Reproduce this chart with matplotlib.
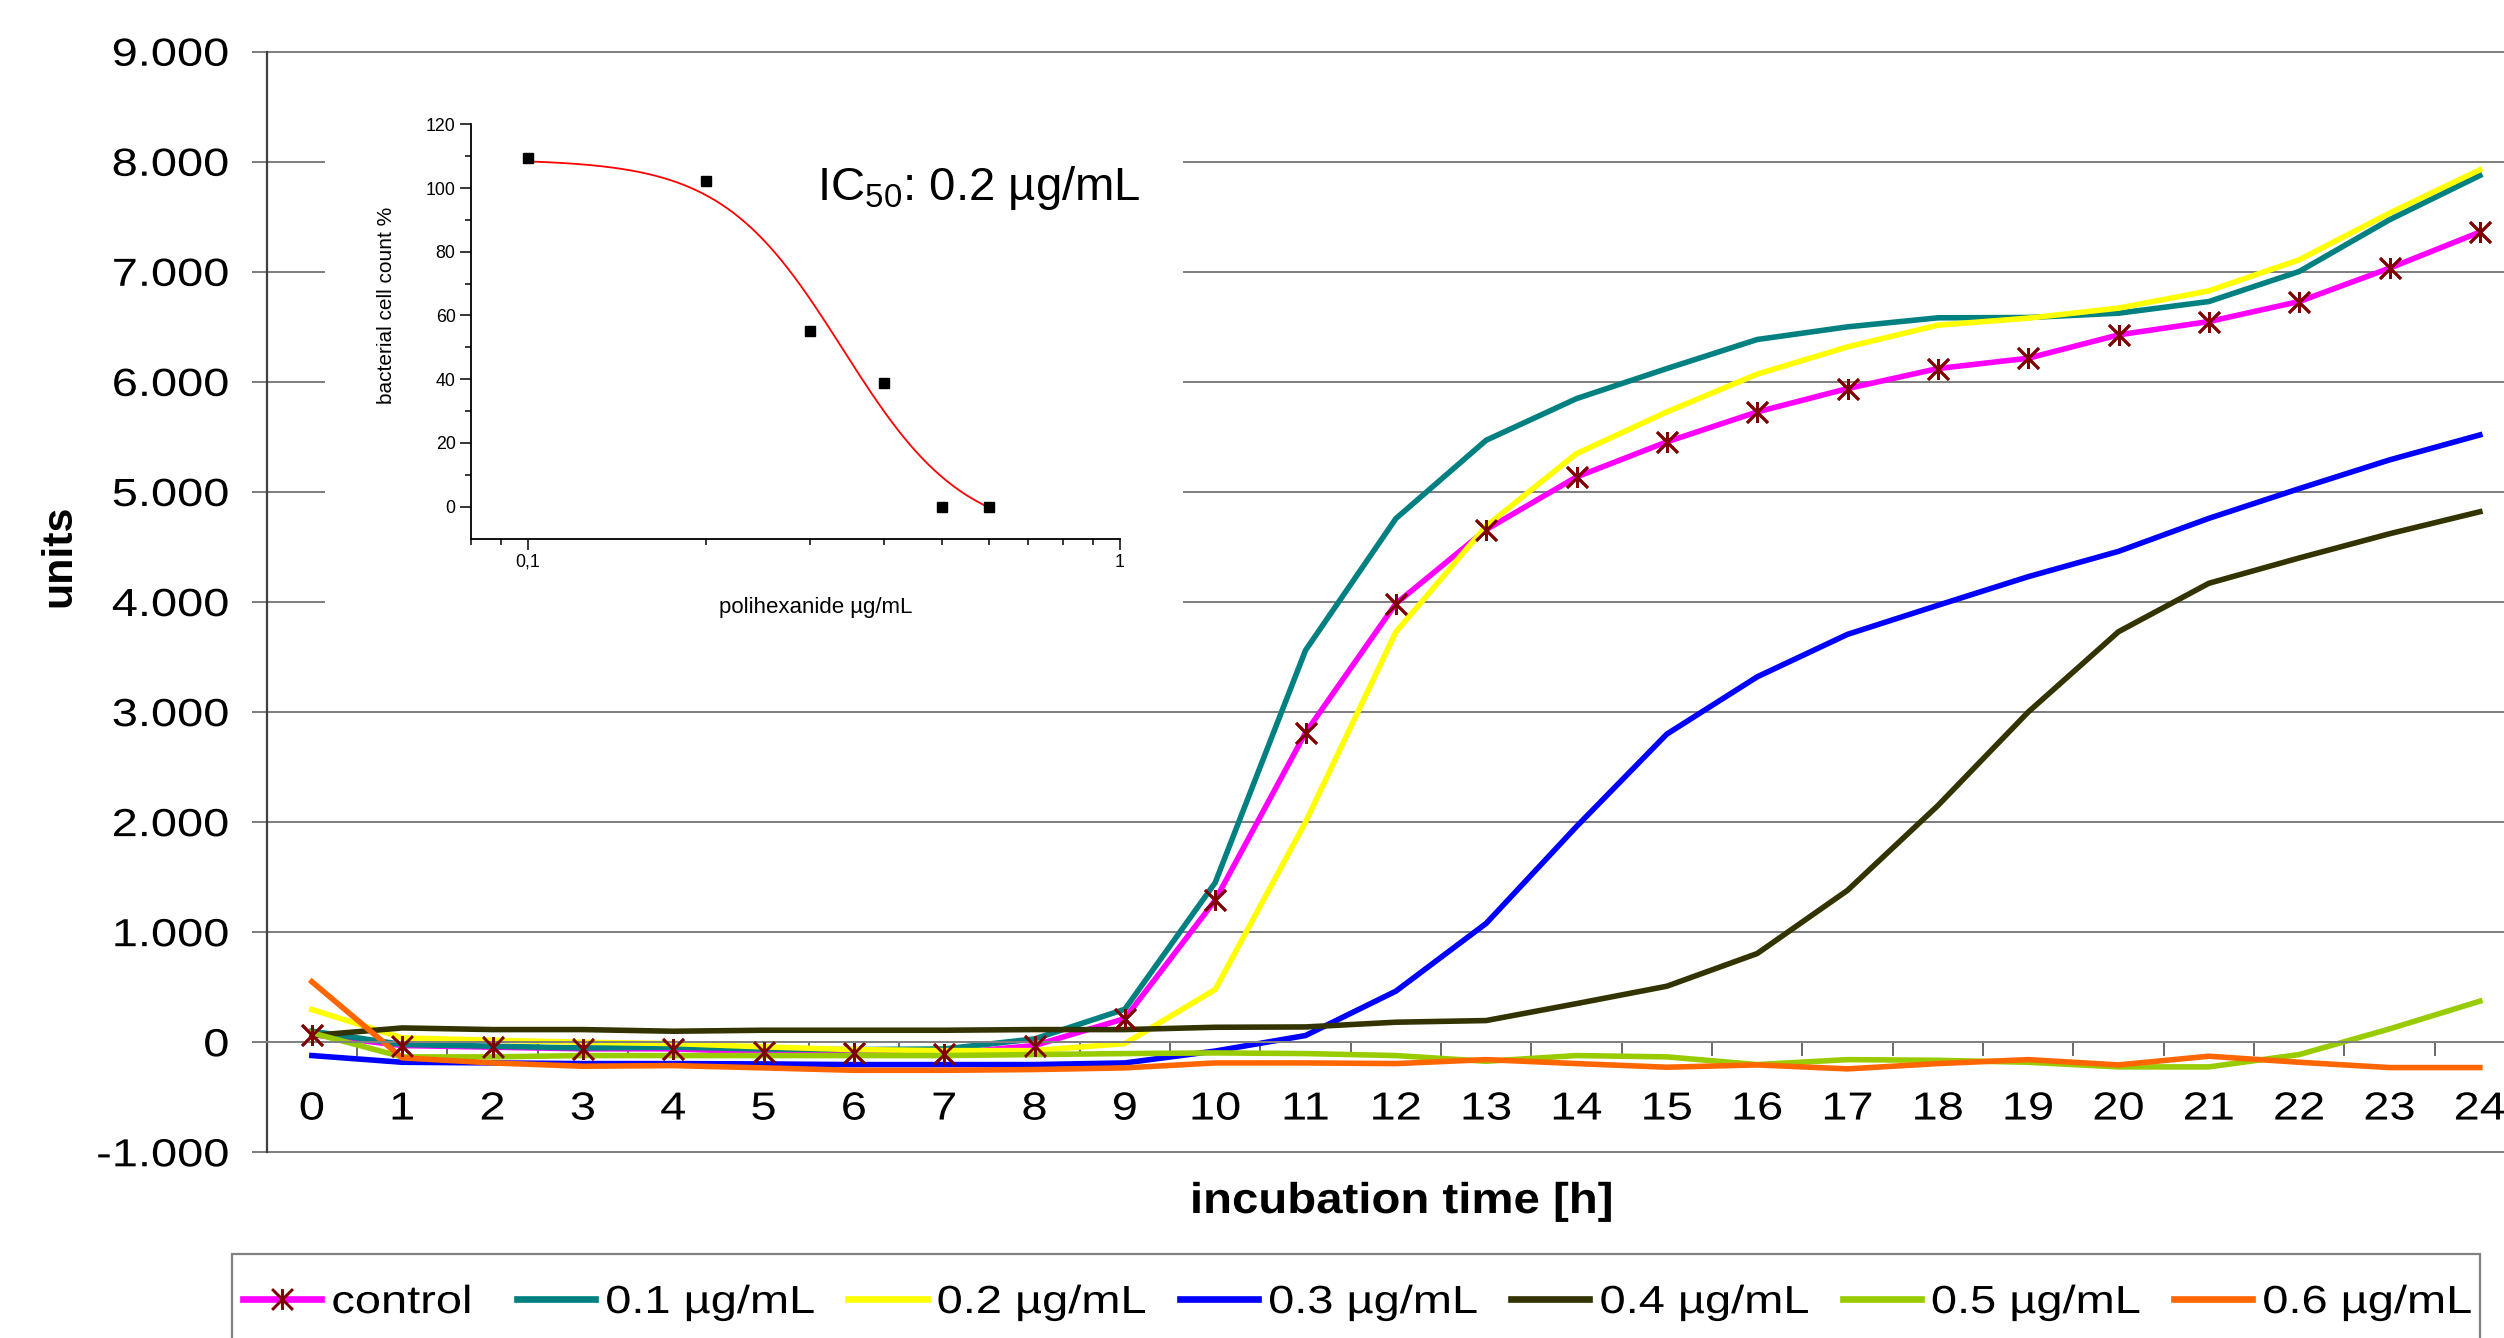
import numpy as np
import matplotlib
matplotlib.use("Agg")
import matplotlib.pyplot as plt
from matplotlib.path import Path
from matplotlib.patheffects import AbstractPathEffect
from matplotlib.transforms import Affine2D
from matplotlib.patches import Rectangle

# ---------------- data ----------------
hours = list(range(25))
x_tick_labels = [str(h) for h in hours]
y_ticks = [-1000, 0, 1000, 2000, 3000, 4000, 5000, 6000, 7000, 8000, 9000]
y_tick_labels = ["-1.000", "0", "1.000", "2.000", "3.000", "4.000",
                 "5.000", "6.000", "7.000", "8.000", "9.000"]

series_labels = ["control", "0.1 µg/mL", "0.2 µg/mL", "0.3 µg/mL",
                 "0.4 µg/mL", "0.5 µg/mL", "0.6 µg/mL"]

control = [70, -30, -45, -60, -60, -90, -97, -103, -30, 215, 1290, 2812, 3985,
           4658, 5136, 5455, 5727, 5939, 6121, 6215, 6427, 6548, 6730, 7033, 7361]
conc_01 = [100, -20, -36, -52, -45, -61, -67, -61, 30, 300, 1450, 3561, 4758,
           5470, 5848, 6121, 6385, 6500, 6582, 6585, 6624, 6730, 7003, 7473, 7875]
conc_02 = [297, 39, 18, 0, -12, -42, -67, -76, -76, -12, 479, 2000, 3727,
           4690, 5348, 5727, 6070, 6318, 6515, 6579, 6670, 6827, 7109, 7533, 7927]
conc_03 = [-121, -182, -188, -194, -194, -197, -203, -203, -203, -188, -80, 61, 464,
           1080, 1960, 2800, 3320, 3706, 3970, 4230, 4460, 4760, 5030, 5291, 5518]
conc_04 = [61, 130, 115, 115, 100, 109, 109, 109, 115, 115, 136, 139, 182,
           197, 351, 509, 806, 1380, 2150, 3000, 3730, 4170, 4400, 4620, 4820]
conc_05 = [85, -133, -133, -121, -121, -121, -121, -121, -112, -103, -97, -103, -121,
           -173, -121, -133, -203, -158, -164, -182, -224, -224, -112, 121, 373]
conc_06 = [550, -142, -188, -218, -212, -233, -255, -255, -248, -233, -188, -188, -194,
           -158, -194, -227, -206, -242, -194, -158, -206, -127, -182, -230, -230]

series_colors = ["#FF00FF", "#008080", "#FFFF00", "#0000FF",
                 "#333300", "#99CC00", "#FF6600"]

# inset: dose-response
inset_conc = [0.1, 0.2, 0.3, 0.4, 0.5, 0.6]
inset_count = [109.3, 102.1, 55.0, 38.7, 0.0, 0.0]
fit_top, fit_bottom, fit_x0, fit_hill = 109.0, -10.0, 0.34, 4.25
inset_y_ticks = [0, 20, 40, 60, 80, 100, 120]
inset_x_ticks = [0.1, 1.0]
inset_x_tick_labels = ["0,1", "1"]

# ---------------- helpers ----------------
class HStretch(AbstractPathEffect):
    """Stretch text glyphs horizontally around an anchor."""
    def __init__(self, sx, anchor="center"):
        super().__init__((0, 0))
        self._sx = sx
        self._anchor = anchor

    def draw_path(self, renderer, gc, tpath, affine, rgbFace=None):
        ext = tpath.get_extents()
        if self._anchor == "left":
            a = 0.0
        elif self._anchor == "right":
            a = ext.x1
        else:
            a = 0.5 * (ext.x0 + ext.x1)
        t = Affine2D().translate(-a, 0).scale(self._sx, 1.0).translate(a, 0) + affine
        renderer.draw_path(gc, tpath, t, rgbFace)


plt.rcParams["font.family"] = ["Liberation Sans", "DejaVu Sans"]

W, H, DPI = 2504, 1338, 100
fig = plt.figure(figsize=(W / DPI, H / DPI), dpi=DPI, facecolor="white")


def fx(px):
    return px / W


def fy(py):
    return 1 - py / H


# ---------------- main axes ----------------
ax_l, ax_r, ax_t, ax_b = 266.7, 2525.0, 51.7, 1152.3
ax = fig.add_axes([fx(ax_l), fy(ax_b), (ax_r - ax_l) / W, (ax_b - ax_t) / H])
ax.set_xlim(-0.5, 24.5)
ax.set_ylim(-1000, 9000)

star = Path([(0, -1), (0, 1), (-1, -1), (1, 1), (-1, 1), (1, -1)],
            [Path.MOVETO, Path.LINETO] * 3)

LW = 4.0
all_series = [control, conc_01, conc_02, conc_03, conc_04, conc_05, conc_06]
handles = []
for vals, lab, col in zip(all_series, series_labels, series_colors):
    if lab == "control":
        ln, = ax.plot(hours, vals, color=col, lw=LW, marker=star, ms=15,
                      mec="#800000", mfc="none", mew=2.1, label=lab, zorder=2)
    else:
        ln, = ax.plot(hours, vals, color=col, lw=LW, label=lab, zorder=2)
    handles.append(ln)
# control markers on top of all lines
ax.plot(hours, control, ls="none", marker=star, ms=15, mec="#800000",
        mfc="none", mew=2.1, zorder=5)

ax.set_xticks(hours, labels=x_tick_labels)
ax.set_xticks(np.arange(0.5, 24, 1.0), minor=True)
ax.set_yticks(y_ticks, labels=y_tick_labels)

ax.tick_params(axis="x", which="major", length=0, pad=35.5, labelsize=28.2)
ax.tick_params(axis="x", which="minor", length=10, width=1.1,
               color="#404040", direction="out")
ax.tick_params(axis="y", which="major", length=10.8, width=1.44,
               color="#808080", direction="out", pad=16.3, labelsize=28.2)

for s in ("top", "right"):
    ax.spines[s].set_visible(False)
ax.spines["bottom"].set_position(("data", 0))
ax.spines["bottom"].set_color("#808080")
ax.spines["bottom"].set_linewidth(1.44)
ax.spines["left"].set_color("#404040")
ax.spines["left"].set_linewidth(1.6)

ax.yaxis.grid(True, color="#808080", lw=1.44)
ax.set_axisbelow(True)
for gl in ax.get_ygridlines():
    gl.set_clip_on(False)

ax.set_xlabel("incubation time [h]", fontsize=31, fontweight="bold", va="center")
ax.xaxis.set_label_coords((1401 - ax_l) / (ax_r - ax_l), (ax_b - 1202) / (ax_b - ax_t))
ax.set_ylabel("units", fontsize=31, fontweight="bold", va="center")
ax.yaxis.set_label_coords((59 - ax_l) / (ax_r - ax_l), (ax_b - 556) / (ax_b - ax_t))

for t in ax.get_xticklabels():
    t.set_path_effects([HStretch(1.2, "center")])
for t in ax.get_yticklabels():
    t.set_path_effects([HStretch(1.2, "right")])
ax.xaxis.label.set_path_effects([HStretch(1.1, "center")])

# ---------------- legend ----------------
leg = fig.legend(handles=handles, labels=series_labels, loc="upper left",
                 bbox_to_anchor=(fx(243), fy(1285)), bbox_transform=fig.transFigure,
                 ncol=7, frameon=False, fontsize=28.2, handlelength=2.0,
                 handletextpad=0.256, columnspacing=1.74, borderpad=0,
                 borderaxespad=0, numpoints=1)
for h in leg.legend_handles:
    h.set_linewidth(4.8)
for t in leg.get_texts():
    t.set_path_effects([HStretch(1.2, "left")])
fig.add_artist(Rectangle((fx(231.7), fy(1350)), (2480 - 231.7) / W, (1350 - 1254) / H,
                         transform=fig.transFigure, fill=False,
                         edgecolor="#808080", lw=1.6))

# ---------------- inset ----------------
bg = fig.add_axes([fx(325), fy(640), (1183 - 325) / W, (640 - 70) / H], facecolor="white")
bg.set_xticks([])
bg.set_yticks([])
for s in bg.spines.values():
    s.set_visible(False)

in_l, in_r, in_t, in_b = 470.7, 1120.0, 124.3, 538.5
ax_in = fig.add_axes([fx(in_l), fy(in_b), (in_r - in_l) / W, (in_b - in_t) / H],
                     facecolor="white")
ax_in.set_xscale("log")
ax_in.set_xlim(0.08, 1.0)
ax_in.set_ylim(-10, 120)

xs = np.logspace(np.log10(inset_conc[0]), np.log10(inset_conc[-1]), 300)
ys = fit_bottom + (fit_top - fit_bottom) / (1 + (xs / fit_x0) ** fit_hill)
ax_in.plot(xs, ys, color="red", lw=1.3, zorder=2)
ax_in.plot(inset_conc, inset_count, ls="none", marker="s", ms=6.5,
           color="black", zorder=3)

ax_in.set_yticks(inset_y_ticks)
ax_in.set_yticks([10, 30, 50, 70, 90, 110], minor=True)
ax_in.set_xticks(inset_x_ticks, labels=inset_x_tick_labels)
ax_in.set_xticks([0.08, 0.09, 0.2, 0.3, 0.4, 0.5, 0.6, 0.7, 0.8, 0.9], minor=True)
ax_in.xaxis.set_minor_formatter(plt.NullFormatter())
ax_in.tick_params(which="major", length=7.7, width=1.1, color="black",
                  direction="out", labelsize=12.8, pad=3.2)
ax_in.tick_params(which="minor", length=4.3, width=1.1, color="black", direction="out")
for s in ("top", "right"):
    ax_in.spines[s].set_visible(False)
for s in ("left", "bottom"):
    ax_in.spines[s].set_linewidth(1.3)
    ax_in.spines[s].set_color("black")

ax_in.set_ylabel("bacterial cell count %", fontsize=15, va="center")
ax_in.yaxis.set_label_coords((387 - in_l) / (in_r - in_l), (in_b - 305) / (in_b - in_t))
ax_in.set_xlabel("polihexanide µg/mL", fontsize=16, va="center")
ax_in.xaxis.set_label_coords((816 - in_l) / (in_r - in_l), (in_b - 607) / (in_b - in_t))

ax_in.text((817 - in_l) / (in_r - in_l), (in_b - 200) / (in_b - in_t),
           r"IC$_\mathregular{50}$: 0.2 µg/mL", transform=ax_in.transAxes,
           fontsize=34, ha="left", va="baseline")

fig.savefig("out.png", dpi=DPI, facecolor="white")
